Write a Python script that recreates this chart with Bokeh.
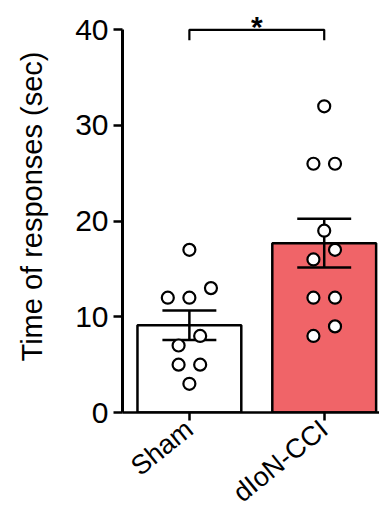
import numpy as np
from bokeh.plotting import figure
from bokeh.models import FixedTicker, Range1d
from bokeh.core.properties import value
from bokeh.embed import file_html
from bokeh.resources import INLINE

# ---- data ----
groups = ["Sham", "dIoN-CCI"]
sham = [17, 12, 12, 13, 8, 7, 5, 5, 3]
dion = [32, 26, 26, 19, 16, 17, 12, 12, 9, 8]
bar_colors = ["white", "#F06468"]
y_ticks = [0, 10, 20, 30, 40]
y_label = "Time of responses (sec)"
sig_label = "*"

FONT = "Liberation Sans"


def swarm(vals, step=0.16, tol=1.1):
    order = sorted(range(len(vals)), key=lambda i: vals[i])
    offs = [0.0] * len(vals)
    bins, cur = [], []
    for i in order:
        if cur and vals[i] - vals[cur[0]] > tol:
            bins.append(cur)
            cur = []
        cur.append(i)
    bins.append(cur)
    for b in bins:
        n = len(b)
        for k, i in enumerate(b):
            offs[i] = (k - (n - 1) / 2) * step
    return offs


series = [sham, dion]
xs = list(range(len(groups)))
means = [float(np.mean(s)) for s in series]
sems = [float(np.std(s, ddof=1) / np.sqrt(len(s))) for s in series]

p = figure(frame_width=257, frame_height=412, output_backend="svg",
           toolbar_location=None,
           x_range=Range1d(-0.496, 1.41), y_range=Range1d(0, 43.06),
           min_border_left=122, min_border_right=0, min_border_top=0,
           min_border_bottom=0)
p.outline_line_color = None
p.xgrid.visible = False
p.ygrid.visible = False
p.background_fill_color = "white"
p.border_fill_color = "white"

# bars
p.vbar(x=xs, top=means, width=0.77, bottom=0, fill_color=bar_colors,
       line_color="black", line_width=2.5)

# error bars
lo = [m - s for m, s in zip(means, sems)]
hi = [m + s for m, s in zip(means, sems)]
p.segment(x0=xs, y0=lo, x1=xs, y1=hi, line_color="black", line_width=2.5)
cap = 0.2
p.segment(x0=[x - cap for x in xs] * 2, y0=lo + hi,
          x1=[x + cap for x in xs] * 2, y1=lo + hi,
          line_color="black", line_width=2.5)

# points
px, py = [], []
for x, s in zip(xs, series):
    offs = swarm(s)
    px += [x + o for o in offs]
    py += s
p.scatter(px, py, marker="circle", size=12, fill_color="white",
          line_color="black", line_width=2.2)

# significance bracket
top = y_ticks[-1]
p.multi_line(xs=[[xs[0], xs[0], xs[1], xs[1]]],
             ys=[[top - 1.1, top, top, top - 1.1]],
             line_color="black", line_width=2.2)
p.text(x=[(xs[0] + xs[1]) / 2], y=[top + 2.1], text=[sig_label],
       text_font=value(FONT), text_font_style="bold", text_font_size="30px",
       text_align="center", text_baseline="top", text_color="black")

# axes
ya = p.yaxis[0]
ya.ticker = FixedTicker(ticks=y_ticks)
ya.bounds = (y_ticks[0], y_ticks[-1])
ya.minor_tick_line_color = None
ya.major_tick_out = 9
ya.major_tick_in = 0
ya.major_tick_line_width = 2.5
ya.axis_line_width = 3
ya.major_label_text_font = FONT
ya.major_label_text_font_size = "30px"
ya.major_label_text_color = "black"
ya.major_label_standoff = 5
ya.axis_label = y_label
ya.axis_label_text_font = FONT
ya.axis_label_text_font_size = "29px"
ya.axis_label_text_font_style = "normal"
ya.axis_label_text_color = "black"
ya.axis_label_standoff = 24

xa = p.xaxis[0]
xa.ticker = FixedTicker(ticks=xs)
xa.major_label_overrides = {x: g for x, g in zip(xs, groups)}
xa.minor_tick_line_color = None
xa.major_tick_out = 8
xa.major_tick_in = 0
xa.major_tick_line_width = 2.5
xa.axis_line_width = 2.5
xa.major_label_orientation = 0.68
xa.major_label_text_font = FONT
xa.major_label_text_font_size = "27px"
xa.major_label_text_color = "black"
xa.major_label_standoff = 5

open("out.html", "w").write(file_html(p, INLINE))
